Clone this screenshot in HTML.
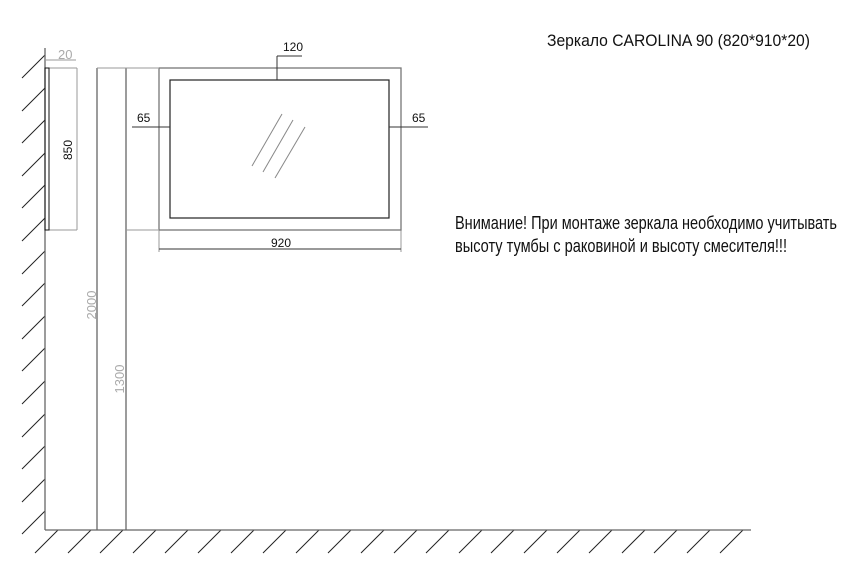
<!DOCTYPE html>
<html><head><meta charset="utf-8"><style>html,body{margin:0;padding:0;background:#fff;}svg{display:block}</style></head>
<body>
<svg width="863" height="577" viewBox="0 0 863 577" xmlns="http://www.w3.org/2000/svg">
<g stroke="#222" stroke-width="1" fill="none">
<!-- wall hatches -->
<path d="M45,55l-23,23M45,88l-23,23M45,120l-23,23M45,153l-23,23M45,185l-23,23M45,218l-23,23M45,251l-23,23M45,283l-23,23M45,316l-23,23M45,348l-23,23M45,381l-23,23M45,414l-23,23M45,446l-23,23M45,479l-23,23M45,511l-23,23"/>
<!-- floor hatches -->
<path d="M58,530l-23,23M91,530l-23,23M123,530l-23,23M156,530l-23,23M188,530l-23,23M221,530l-23,23M254,530l-23,23M286,530l-23,23M319,530l-23,23M351,530l-23,23M384,530l-23,23M417,530l-23,23M449,530l-23,23M482,530l-23,23M514,530l-23,23M547,530l-23,23M580,530l-23,23M612,530l-23,23M645,530l-23,23M677,530l-23,23M710,530l-23,23M743,530l-23,23"/>
</g>
<g stroke="#666" stroke-width="1.3" fill="none">
<line x1="45" y1="48" x2="45" y2="530"/>
<line x1="45" y1="530" x2="751" y2="530"/>
<line x1="97" y1="68" x2="97" y2="530"/>
<line x1="126" y1="68" x2="126" y2="530"/>
</g>
<g stroke="#999" stroke-width="1" fill="none">
<line x1="45" y1="60" x2="76" y2="60"/>
<line x1="49" y1="68" x2="77" y2="68"/>
<line x1="97" y1="68" x2="158" y2="68"/>
<line x1="126" y1="230" x2="158" y2="230"/>
<line x1="159" y1="230" x2="159" y2="252"/>
<line x1="401" y1="230" x2="401" y2="252"/>
<line x1="77" y1="68" x2="77" y2="230"/>
<line x1="49" y1="230" x2="77" y2="230"/>
</g>
<!-- side view -->
<rect x="45" y="68" width="4" height="162" fill="none" stroke="#111" stroke-width="1"/>
<!-- mirror -->
<rect x="159" y="68" width="242" height="162" fill="none" stroke="#777" stroke-width="1.3"/>
<rect x="170" y="80" width="219" height="138" fill="none" stroke="#222" stroke-width="1.2"/>
<g stroke="#888" stroke-width="1">
<line x1="282" y1="114" x2="252" y2="166"/>
<line x1="293" y1="120" x2="263" y2="172"/>
<line x1="305" y1="127" x2="275" y2="178"/>
</g>
<!-- dims -->
<g stroke="#333" stroke-width="1" fill="none">
<line x1="159" y1="249" x2="401" y2="249"/>
<line x1="277" y1="80" x2="277" y2="56"/>
<line x1="277" y1="56" x2="302" y2="56"/>
<line x1="132" y1="127" x2="170" y2="127"/>
<line x1="389" y1="127" x2="428" y2="127"/>
</g>
<g font-family="'Liberation Sans', sans-serif" fill="#111">
<text x="283" y="51" font-size="12">120</text>
<text x="137" y="122" font-size="12">65</text>
<text x="412" y="122" font-size="12">65</text>
<text x="271" y="247" font-size="12">920</text>
<text transform="translate(72,150) rotate(-90)" font-size="12" text-anchor="middle">850</text>
<text x="547" y="46" font-size="17" textLength="263" lengthAdjust="spacingAndGlyphs">Зеркало CAROLINA 90 (820*910*20)</text>
<text x="455" y="229" font-size="18" textLength="382" lengthAdjust="spacingAndGlyphs">Внимание! При монтаже зеркала необходимо учитывать</text>
<text x="455" y="252" font-size="18" textLength="332" lengthAdjust="spacingAndGlyphs">высоту тумбы с раковиной и высоту смесителя!!!</text>
</g>
<g font-family="'Liberation Sans', sans-serif" fill="#aaa" font-size="13">
<text x="58" y="59">20</text>
<text transform="translate(96,305) rotate(-90)" text-anchor="middle">2000</text>
<text transform="translate(124,379) rotate(-90)" text-anchor="middle">1300</text>
</g>
</svg>
</body></html>
